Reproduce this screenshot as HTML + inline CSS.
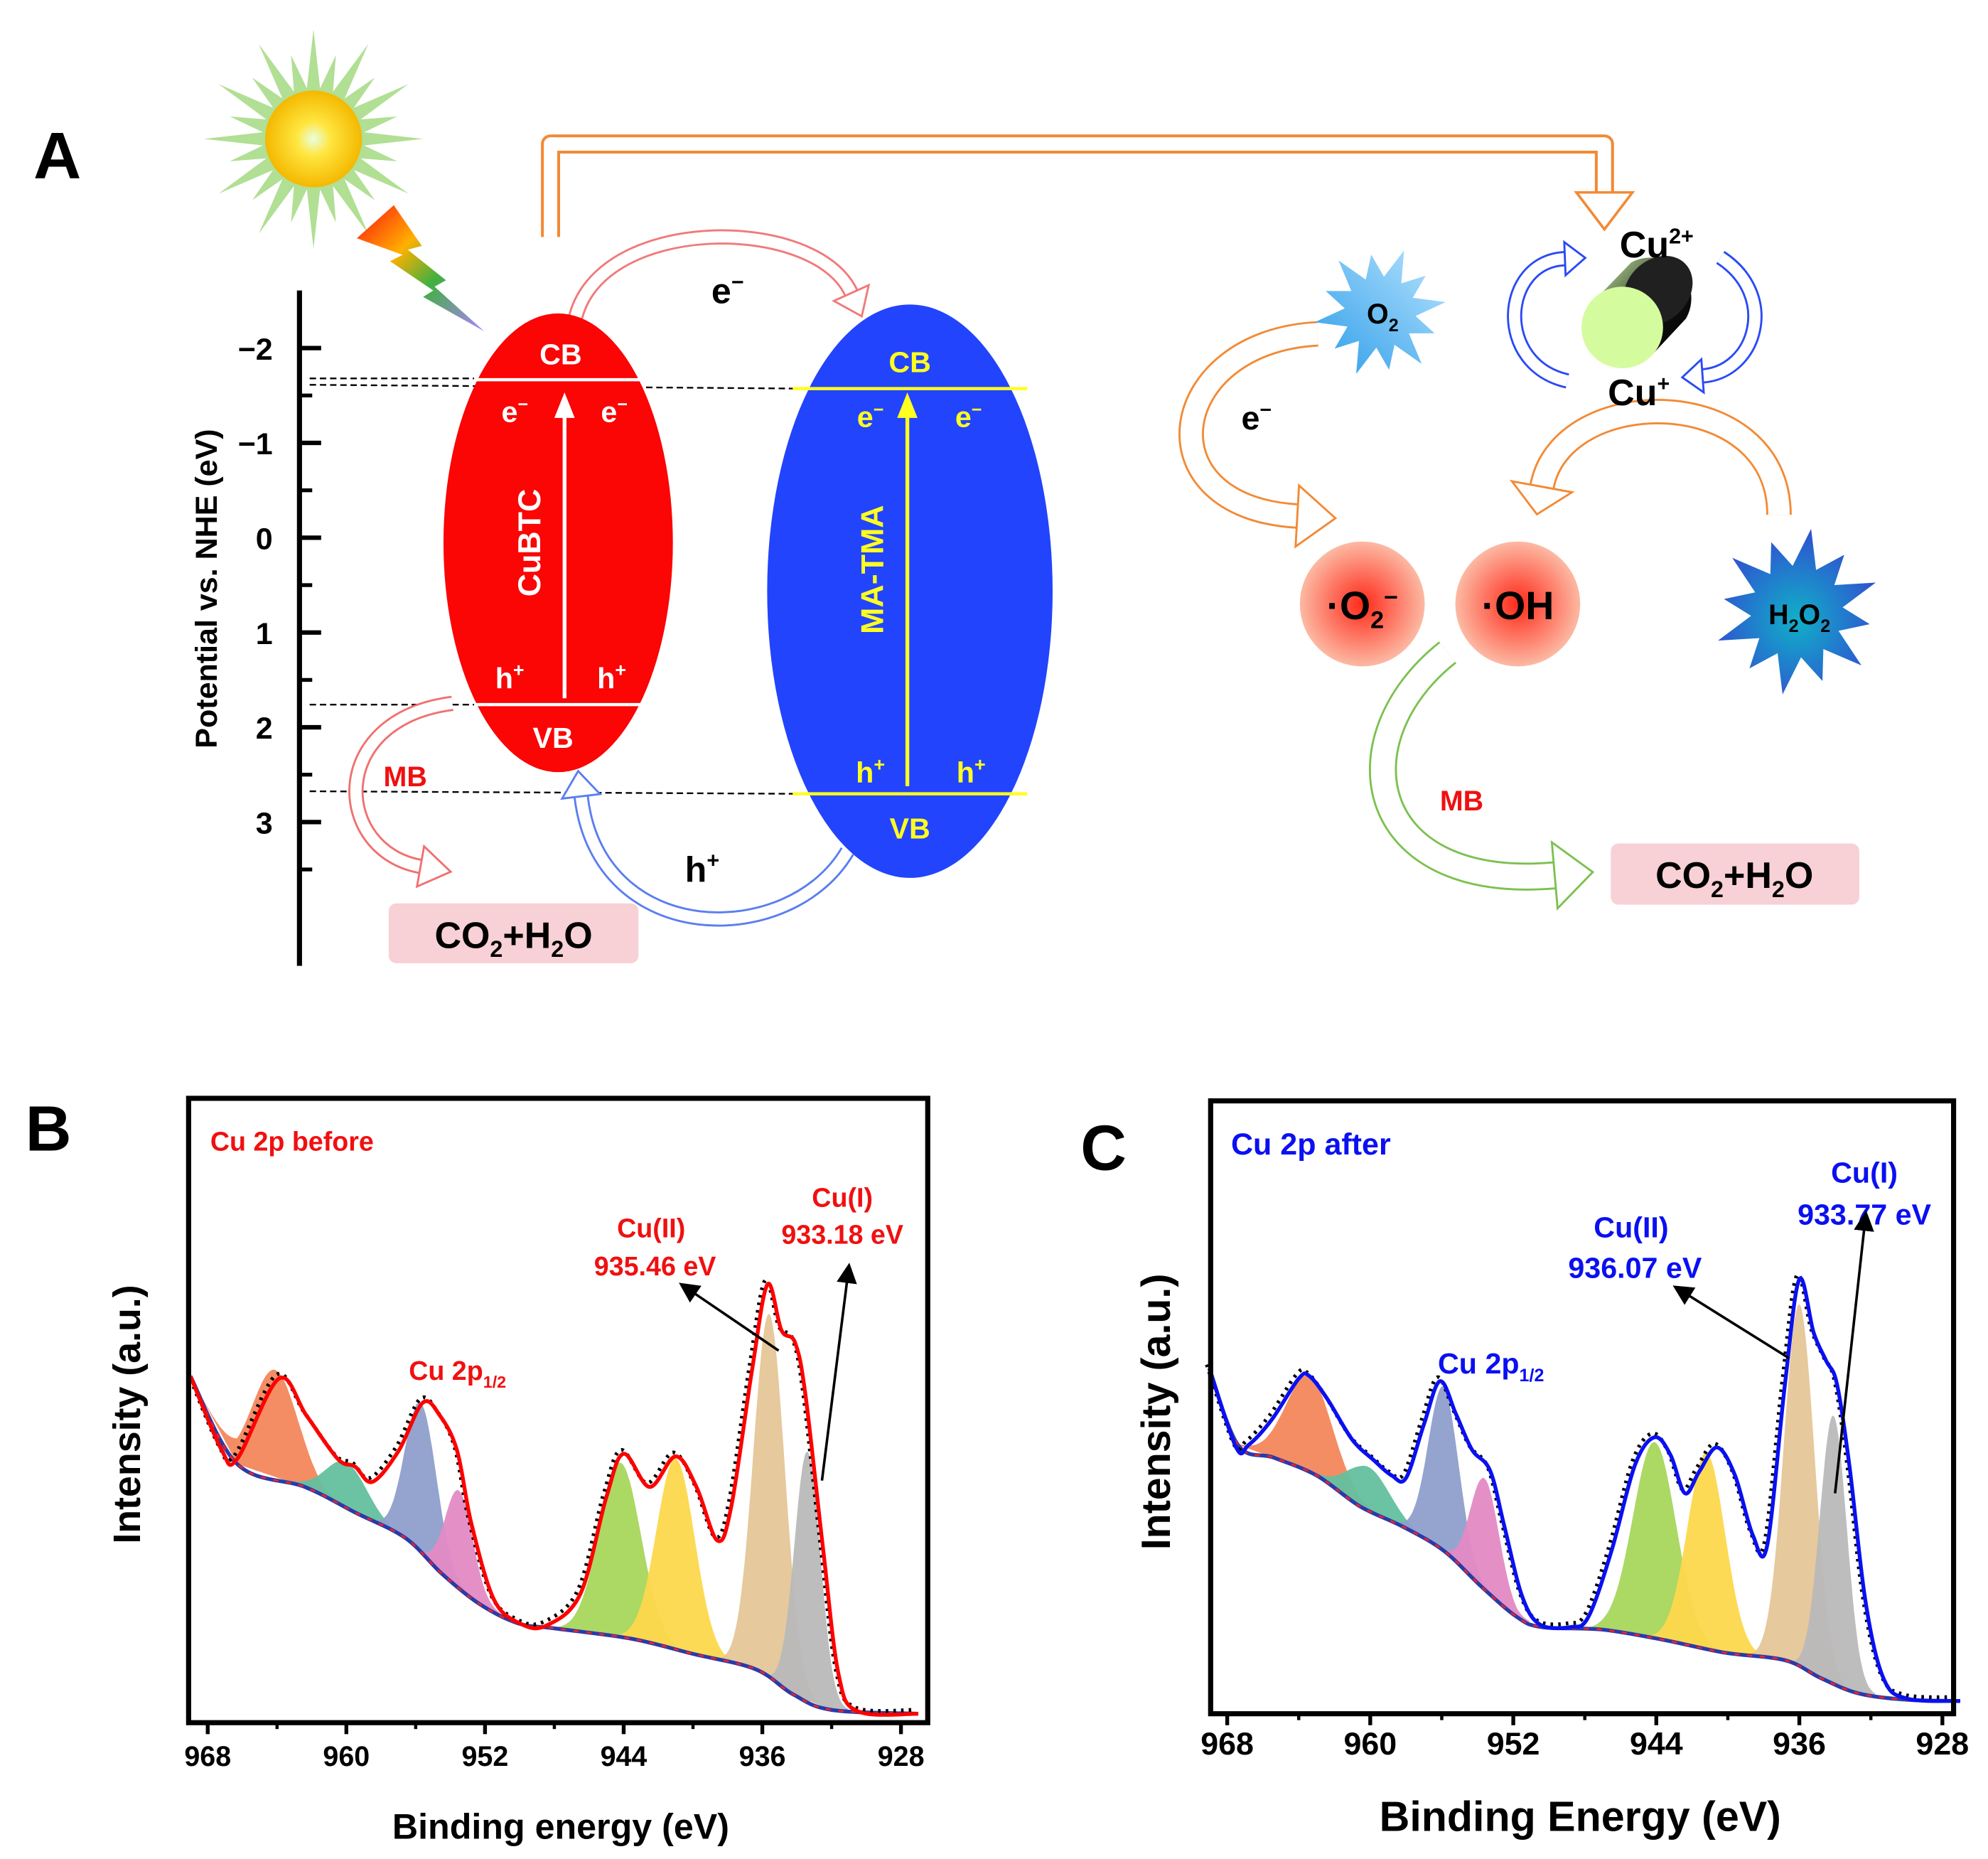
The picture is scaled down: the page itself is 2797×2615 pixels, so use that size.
<!DOCTYPE html>
<html><head><meta charset="utf-8"><style>
html,body{margin:0;padding:0;background:#fff}
svg{display:block}
text{font-family:"Liberation Sans",Arial,sans-serif;font-weight:bold}
</style></head><body>
<svg id="fig" xmlns="http://www.w3.org/2000/svg" width="2797" height="2615" viewBox="0 0 1560 1459" preserveAspectRatio="none">
<defs>
<radialGradient id="sunCore" cx="50%" cy="50%" r="50%"><stop offset="0" stop-color="#e8ffe0"/><stop offset="0.35" stop-color="#ffe640"/><stop offset="1" stop-color="#f4b800"/></radialGradient>
<linearGradient id="bolt" x1="0" y1="0" x2="1" y2="1"><stop offset="0" stop-color="#ff1010"/><stop offset="0.35" stop-color="#ffb000"/><stop offset="0.6" stop-color="#40b040"/><stop offset="1" stop-color="#b080ff"/></linearGradient>
<radialGradient id="rad" cx="50%" cy="50%" r="50%"><stop offset="0" stop-color="#ff2a1a"/><stop offset="1" stop-color="#fcb9a3"/></radialGradient>
<linearGradient id="o2g" x1="1" y1="0" x2="0" y2="1"><stop offset="0" stop-color="#b8e4ff"/><stop offset="1" stop-color="#2b9ce8"/></linearGradient>
<radialGradient id="h2o2g" cx="50%" cy="55%" r="55%"><stop offset="0" stop-color="#10b0c8"/><stop offset="1" stop-color="#3050d0"/></radialGradient>
<linearGradient id="cyl" x1="0" y1="0" x2="1" y2="1"><stop offset="0" stop-color="#c8f0a0"/><stop offset="0.6" stop-color="#101010"/><stop offset="1" stop-color="#000"/></linearGradient>
</defs>

<text x="45" y="140" font-size="52" text-anchor="middle">A</text>
<g id="sun"></g>
<polygon fill="url(#bolt)" points="280,187 309,161 331,193 320,196 350,220 341,225 380,260 332,233 340,228 306,205 316,200"/>

<line x1="235" y1="228" x2="235" y2="758" stroke="#000" stroke-width="4"/>
<g id="aTicks"></g>
<text transform="translate(170,462) rotate(-90)" font-size="24" text-anchor="middle">Potential vs. NHE (eV)</text>

<g stroke="#000" stroke-width="1.3" stroke-dasharray="5 3">
<line x1="243" y1="297" x2="372" y2="297"/>
<line x1="243" y1="302" x2="632" y2="305"/>
<line x1="243" y1="553" x2="372" y2="553"/>
<line x1="243" y1="621" x2="625" y2="623"/>
</g>

<g id="arrowsA"></g>

<g>
<ellipse cx="438" cy="426" rx="90" ry="180" fill="#fb0505"/>
<line x1="372" y1="298" x2="503" y2="298" stroke="#fff" stroke-width="2.5"/>
<line x1="372" y1="553" x2="503" y2="553" stroke="#fff" stroke-width="2.5"/>
<line x1="443" y1="548" x2="443" y2="325" stroke="#fff" stroke-width="3"/>
<polygon points="443,308 435,328 451,328" fill="#fff"/>
<g fill="#fff" font-size="23" text-anchor="middle">
<text x="440" y="286">CB</text><text x="434" y="587">VB</text>
<text x="404" y="331">e<tspan font-size="14" dy="-9">−</tspan></text><text x="482" y="331">e<tspan font-size="14" dy="-9">−</tspan></text>
<text x="400" y="540">h<tspan font-size="15" dy="-9">+</tspan></text><text x="480" y="540">h<tspan font-size="15" dy="-9">+</tspan></text>
<text transform="translate(424,426) rotate(-90)" font-size="25">CuBTC</text>
</g></g>

<g>
<ellipse cx="714" cy="464" rx="112" ry="225" fill="#2244fd"/>
<line x1="622" y1="305" x2="806" y2="305" stroke="#ffff20" stroke-width="2.5"/>
<line x1="622" y1="623" x2="806" y2="623" stroke="#ffff20" stroke-width="2.5"/>
<line x1="712" y1="617" x2="712" y2="325" stroke="#ffff20" stroke-width="3"/>
<polygon points="712,308 704,328 720,328" fill="#ffff20"/>
<g fill="#ffff20" font-size="23" text-anchor="middle">
<text x="714" y="292">CB</text><text x="714" y="658">VB</text>
<text x="683" y="335">e<tspan font-size="14" dy="-9">−</tspan></text><text x="760" y="335">e<tspan font-size="14" dy="-9">−</tspan></text>
<text x="683" y="614">h<tspan font-size="15" dy="-9">+</tspan></text><text x="762" y="614">h<tspan font-size="15" dy="-9">+</tspan></text>
<text transform="translate(693,447) rotate(-90)" font-size="25">MA-TMA</text>
</g></g>

<text x="571" y="238" font-size="28" text-anchor="middle">e<tspan font-size="17" dy="-11">−</tspan></text>
<text x="551" y="692" font-size="28" text-anchor="middle">h<tspan font-size="17" dy="-11">+</tspan></text>
<text x="318" y="617" font-size="22" fill="#f01010" text-anchor="middle">MB</text>
<rect x="305" y="709" width="196" height="47" rx="6" fill="#f7d1d5"/>
<text x="403" y="744" font-size="29" text-anchor="middle" font-weight="normal">CO<tspan font-size="18" dy="7">2</tspan><tspan dy="-7">+H</tspan><tspan font-size="18" dy="7">2</tspan><tspan dy="-7">O</tspan></text>

<polygon id="o2star" fill="url(#o2g)"/>
<text x="1085" y="254" font-size="22" text-anchor="middle">O<tspan font-size="14" dy="6">2</tspan></text>
<g>
<path d="M1252,235 L1280,206 A32,32 0 0 1 1323,250 L1296,279 Z" fill="url(#cyl)"/>
<ellipse cx="1301" cy="228" rx="24" ry="30" transform="rotate(45 1301 228)" fill="#202020"/>
<circle cx="1273" cy="257" r="32" fill="#d5fb9f"/>
</g>
<text x="1300" y="202" font-size="29" text-anchor="middle">Cu<tspan font-size="17" dy="-11">2+</tspan></text>
<text x="1286" y="318" font-size="29" text-anchor="middle">Cu<tspan font-size="17" dy="-11">+</tspan></text>
<text x="986" y="337" font-size="26" text-anchor="middle">e<tspan font-size="16" dy="-10">−</tspan></text>
<circle cx="1069" cy="474" r="49" fill="url(#rad)"/>
<text x="1069" y="486" font-size="31" text-anchor="middle">·O<tspan font-size="19" dy="7">2</tspan><tspan font-size="19" dy="-18">−</tspan></text>
<circle cx="1191" cy="474" r="49" fill="url(#rad)"/>
<text x="1191" y="486" font-size="31" text-anchor="middle">·OH</text>
<polygon id="h2o2star" fill="url(#h2o2g)"/>
<text x="1412" y="490" font-size="22" text-anchor="middle">H<tspan font-size="14" dy="6">2</tspan><tspan dy="-6">O</tspan><tspan font-size="14" dy="6">2</tspan></text>
<text x="1147" y="636" font-size="22" fill="#f01010" text-anchor="middle">MB</text>
<rect x="1264" y="662" width="195" height="48" rx="6" fill="#f7d1d5"/>
<text x="1361" y="697" font-size="29" text-anchor="middle" font-weight="normal">CO<tspan font-size="18" dy="7">2</tspan><tspan dy="-7">+H</tspan><tspan font-size="18" dy="7">2</tspan><tspan dy="-7">O</tspan></text>

<text x="38" y="903" font-size="50" text-anchor="middle">B</text>
<g id="chartB"></g>
<text x="866" y="918" font-size="50" text-anchor="middle">C</text>
<g id="chartC"></g>
</svg>

<script>
const NS = "http://www.w3.org/2000/svg";
function mk(tag, attrs, parent){ const e=document.createElementNS(NS,tag); for(const k in attrs) e.setAttribute(k,attrs[k]); parent.appendChild(e); return e; }

const potentialTicks = [-2,-1,0,1,2,3];
const potentialMinor = [-1.5,-0.5,0.5,1.5,2.5,3.5];
const yA = v => 422 + v*74.4;
const aT = document.getElementById('aTicks');
potentialTicks.forEach(v=>{
  const l = mk('line',{x1:235,x2:252,y1:yA(v),y2:yA(v),stroke:'#000','stroke-width':3.5},aT);
  
  
  const t = mk('text',{x:214,y:yA(v)+9,'font-size':24,'text-anchor':'end'},aT);
  t.textContent = v<0 ? '−'+(-v) : String(v);
  
  
});
potentialMinor.forEach(v=>{
  const l = mk('line',{x1:235,x2:245,y1:yA(v),y2:yA(v),stroke:'#000','stroke-width':3},aT);
  
  
});

(function(){
  const g=document.getElementById('sun'); const cx=246, cy=109;
  let pts=[]; const n=24;
  for(let i=0;i<n*2;i++){ const a=i*Math.PI/n; const r = i%2===0 ? (i%4===0?86:68) : 40; pts.push((cx+r*Math.cos(a)).toFixed(1)+','+(cy+r*Math.sin(a)).toFixed(1)); }
  mk('polygon',{points:pts.join(' '),fill:'#a8dc88',opacity:0.9},g);
  mk('circle',{cx:cx,cy:cy,r:38,fill:'url(#sunCore)'},g);
})();
function star(id,cx,cy,ro,ri,n,rot){
  const pts=[]; for(let i=0;i<n*2;i++){ const a=rot+i*Math.PI/n; const r=i%2?ri:ro*(i%4===0?1:0.88); pts.push((cx+r*Math.cos(a)).toFixed(1)+','+(cy+r*Math.sin(a)).toFixed(1)); }
  document.getElementById(id).setAttribute('points',pts.join(' '));
}
star('o2star',1083,245,52,28,12,-1.2);
star('h2o2star',1410,480,66,36,12,-1.4);

const arrA = document.getElementById('arrowsA');
function hollow(name,p0,c1,c2,p3,color,w,L,H){
  const g = mk('g',{},arrA);
  
  
  const d=`M${p0[0]},${p0[1]} C${c1[0]},${c1[1]} ${c2[0]},${c2[1]} ${p3[0]},${p3[1]}`;
  mk('path',{d:d,fill:'none',stroke:color,'stroke-width':w},g);
  mk('path',{d:d,fill:'none',stroke:'#fff','stroke-width':w-3.2},g);
  let ux=p3[0]-c2[0], uy=p3[1]-c2[1]; const m=Math.hypot(ux,uy); ux/=m; uy/=m;
  const px=-uy, py=ux; const tip=[p3[0]+ux*L,p3[1]+uy*L];
  mk('polygon',{points:`${p3[0]+px*H},${p3[1]+py*H} ${tip[0]},${tip[1]} ${p3[0]-px*H},${p3[1]-py*H}`,fill:'#fff',stroke:color,'stroke-width':1.6,'stroke-linejoin':'miter'},g);
}
(function(){
  const g = mk('g',{},arrA);
  
  
  const d='M432,186 L432,113 L1259,113 L1259,152';
  mk('path',{d:d,fill:'none',stroke:'#f28a35','stroke-width':15,'stroke-linejoin':'round'},g);
  mk('path',{d:d,fill:'none',stroke:'#fff','stroke-width':10.5,'stroke-linejoin':'round'},g);
  mk('polygon',{points:'1237,151 1281,151 1259,180',fill:'#fff',stroke:'#f28a35','stroke-width':2},g);
})();
hollow('electron-transfer-arrow',[451,252],[468,168],[640,168],[668,230],'#f07a7a',12,20,15);
hollow('hole-transfer-arrow',[665,668],[620,745],[470,745],[456,625],'#5a7ef0',12,20,15);
hollow('mb-degradation-arrow-left',[355,552],[255,565],[262,668],[330,680],'#f07070',12,24,16);
hollow('o2-reduction-arrow',[1034,262],[915,268],[895,398],[1018,405],'#f28a35',20,30,24);
hollow('h2o2-to-oh-arrow',[1396,404],[1396,300],[1225,300],[1210,382],'#f28a35',20,22,24);
hollow('mb-degradation-arrow-right',[1136,512],[1050,580],[1070,700],[1220,687],'#7cc150',22,30,26);
hollow('cu-reduction-arrow',[1230,299],[1172,286],[1178,205],[1228,203],'#2a4af5',12,16,13);
hollow('cu-oxidation-arrow',[1350,202],[1396,232],[1378,292],[1336,295],'#2a4af5',12,16,13);

const energyTicks = [968,960,952,944,936,928];
const energyMinor = [964,956,948,940,932];
const bgB_E = [969,966.3,962.4,959.5,956.6,954.5,952.3,950.1,948,943.6,940,936.4,934.2,932,927];
const bgB_I = [280,211,193,173,153,125,101,86,82,74,62,50,30,18,15];
const fitB_E = [969,967.2,966.3,963.9,962.3,960.5,959.5,958.5,957,955.6,954.6,953.6,952.8,951.5,950,948.5,946.5,945,944,942.5,941,939.8,938.6,937.8,936.6,935.7,934.9,934.1,933.5,932.5,931.6,930.5,927];
const fitB_I = [280,222,215,278,249,215,209,197,221,259,249,221,165,105,86,84,109,185,219,193,217,193,151,177,284,352,316,306,264,145,46,17,15];
const peakB_center = [964.1,960.0,955.7,953.5,944.2,941.0,935.6,933.4];
const peakB_height = [84,36,118,76,137,150,286,195];
const peakB_sigma  = [1.3,1.2,0.9,0.8,1.2,1.1,0.9,0.75];
const bgC_E = [969,967.4,965.4,963,960.6,958.2,955.9,953.8,951.8,950.4,947,943.6,940.2,936.8,934.8,932.7,930,927];
const bgC_I = [271,211,201,187,163,147,128,100,76,68,66,58,48,42,28,16,11,10];
const fitC_E = [969,967.5,966.8,965.5,964,963.4,962.4,961,959.8,958.8,958,957,956.1,955.2,954.3,953.3,952.5,951.5,950.5,948.8,947.8,946.5,945.2,944.1,943.2,942.4,941.6,940.6,939.6,938.6,937.8,936.8,936,935.2,934.5,933.9,933.2,932.3,931.3,930,927];
const fitC_I = [271,209,211,231,263,265,247,215,199,187,185,227,261,235,207,191,147,92,70,68,76,128,195,217,203,173,190,209,187,140,132,259,341,299,277,259,195,88,28,12,10];
const peakC_center = [963.4,960.1,955.9,953.6,944.1,941.2,936.0,934.1];
const peakC_height = [76,34,129,87,154,154,285,210];
const peakC_sigma  = [1.3,1.2,0.85,0.8,1.2,1.05,0.85,0.75];
const peakNames = ['satellite-1','satellite-2','cu2p12-cu2','cu2p12-cu1','satellite-3','satellite-4','cu2-peak','cu1-peak'];
const peakColors = ['#f4875c','#63c09e','#8e9fcc','#e38ac4','#a8d65c','#fdd84c','#e5c697','#b9b9b9'];

function interp(E, xs, ys){
  if(E>=xs[0]) return ys[0];
  for(let i=1;i<xs.length;i++){ if(E>=xs[i]){ const t=(xs[i-1]-E)/(xs[i-1]-xs[i]); return ys[i-1]+(ys[i]-ys[i-1])*t; } }
  return ys[ys.length-1];
}
function smoothPath(pts){
  let d=`M${pts[0][0].toFixed(1)},${pts[0][1].toFixed(1)}`;
  for(let i=0;i<pts.length-1;i++){
    const p0=pts[i-1]||pts[i], p1=pts[i], p2=pts[i+1], p3=pts[i+2]||p2;
    const c1=[p1[0]+(p2[0]-p0[0])/6, p1[1]+(p2[1]-p0[1])/6];
    const c2=[p2[0]-(p3[0]-p1[0])/6, p2[1]-(p3[1]-p1[1])/6];
    d+=` C${c1[0].toFixed(1)},${c1[1].toFixed(1)} ${c2[0].toFixed(1)},${c2[1].toFixed(1)} ${p2[0].toFixed(1)},${p2[1].toFixed(1)}`;
  }
  return d;
}

function drawXPS(cfg){
  const g=document.getElementById(cfg.id);
  const x=cfg.x, y=cfg.y;
  cfg.centers.forEach((c,i)=>{
    const s=cfg.sigmas[i], h=cfg.heights[i];
    const up=[], lo=[];
    for(let E=c+3.2*s; E>=c-3.2*s-1e-9; E-=s/12){
      const b=interp(E,cfg.bgE,cfg.bgI);
      up.push([x(E),y(b+h*Math.exp(-((E-c)*(E-c))/(2*s*s)))]);
      lo.push([x(E),y(b)]);
    }
    const pts=up.concat(lo.reverse()).map(p=>p[0].toFixed(1)+','+p[1].toFixed(1)).join(' ');
    const poly=mk('polygon',{points:pts,fill:peakColors[i],opacity:0.95},g);
    
    
  });
  const bgPts=cfg.bgE.map((E,i)=>[x(E),y(cfg.bgI[i])]);
  const bgd=smoothPath(bgPts);
  const bl=mk('path',{d:bgd,fill:'none',stroke:'#2b3aa8','stroke-width':3},g);
  
  
  const bl2=mk('path',{d:bgd,fill:'none',stroke:'#ff2020','stroke-width':1.4,'stroke-dasharray':'4 6'},g);
  
  
  const fitPts=cfg.fitE.map((E,i)=>[x(E),y(cfg.fitI[i])]);
  const fd=smoothPath(fitPts);
  const raw=mk('path',{d:fd,fill:'none',stroke:'#000','stroke-width':3,'stroke-dasharray':'2 4',transform:'translate(-2,-3)'},g);
  
  
  const fit=mk('path',{d:fd,fill:'none',stroke:cfg.fitColor,'stroke-width':3},g);
  
  
  const fr=mk('rect',{x:cfg.fx0,y:cfg.fy0,width:cfg.fx1-cfg.fx0,height:cfg.fy1-cfg.fy0,fill:'none',stroke:'#000','stroke-width':4},g);
  
  
  energyTicks.forEach(E=>{
    const t=mk('line',{x1:x(E),x2:x(E),y1:cfg.fy1,y2:cfg.fy1+9,stroke:'#000','stroke-width':3},g);
    
    
    const lb=mk('text',{x:x(E),y:cfg.fy1+cfg.labOff,'font-size':cfg.tickFs,'text-anchor':'middle'},g);
    lb.textContent=String(E);
    
    
  });
  energyMinor.forEach(E=>{
    const t=mk('line',{x1:x(E),x2:x(E),y1:cfg.fy1,y2:cfg.fy1+5,stroke:'#000','stroke-width':2.5},g);
    
    
  });
}

const xB = E => 163 + (968-E)*13.6;
const yB = I => 1360 - I;
drawXPS({id:'chartB',x:xB,y:yB,bgE:bgB_E,bgI:bgB_I,fitE:fitB_E,fitI:fitB_I,centers:peakB_center,heights:peakB_height,sigmas:peakB_sigma,fitColor:'#ff0000',fx0:148,fx1:728,fy0:862,fy1:1352,labOff:34,tickFs:22});
const xC = E => 963 + (968-E)*14.03;
const yC = I => 1345 - I;
drawXPS({id:'chartC',x:xC,y:yC,bgE:bgC_E,bgI:bgC_I,fitE:fitC_E,fitI:fitC_I,centers:peakC_center,heights:peakC_height,sigmas:peakC_sigma,fitColor:'#0a10f0',fx0:950,fx1:1533,fy0:864,fy1:1345,labOff:32,tickFs:25});
</script>

<svg style="position:absolute;left:0;top:0" width="2797" height="2615" viewBox="0 0 1560 1459" preserveAspectRatio="none">
<defs><marker id="ah" markerWidth="8" markerHeight="8" refX="6" refY="4" orient="auto" markerUnits="strokeWidth"><path d="M0,0 L8,4 L0,8 Z" fill="#000"/></marker></defs>
<g font-family="Liberation Sans, Arial, sans-serif" font-weight="bold">
<text x="165" y="903" font-size="21" fill="#f01010">Cu 2p before</text>
<text x="359" y="1083" font-size="21" fill="#f01010" text-anchor="middle">Cu 2p<tspan font-size="13" dy="6">1/2</tspan></text>
<text x="511" y="971" font-size="21" fill="#f01010" text-anchor="middle">Cu(II)</text>
<text x="514" y="1001" font-size="21" fill="#f01010" text-anchor="middle">935.46 eV</text>
<text x="661" y="947" font-size="21" fill="#f01010" text-anchor="middle">Cu(I)</text>
<text x="661" y="976" font-size="21" fill="#f01010" text-anchor="middle">933.18 eV</text>
<line x1="611" y1="1060" x2="536" y2="1009" stroke="#000" stroke-width="2" marker-end="url(#ah)"/>
<line x1="645" y1="1162" x2="666" y2="995" stroke="#000" stroke-width="2" marker-end="url(#ah)"/>
<text transform="translate(110,1110) rotate(-90)" font-size="30" text-anchor="middle">Intensity (a.u.)</text>
<text x="440" y="1443" font-size="28" text-anchor="middle">Binding energy (eV)</text>

<text x="966" y="906" font-size="24" fill="#0a10f0">Cu 2p after</text>
<text x="1170" y="1078" font-size="23" fill="#0a10f0" text-anchor="middle">Cu 2p<tspan font-size="14" dy="6">1/2</tspan></text>
<text x="1280" y="971" font-size="23" fill="#0a10f0" text-anchor="middle">Cu(II)</text>
<text x="1283" y="1003" font-size="23" fill="#0a10f0" text-anchor="middle">936.07 eV</text>
<text x="1463" y="928" font-size="23" fill="#0a10f0" text-anchor="middle">Cu(I)</text>
<text x="1463" y="961" font-size="23" fill="#0a10f0" text-anchor="middle">933.77 eV</text>
<line x1="1404" y1="1066" x2="1316" y2="1011" stroke="#000" stroke-width="2" marker-end="url(#ah)"/>
<line x1="1440" y1="1172" x2="1464" y2="954" stroke="#000" stroke-width="2" marker-end="url(#ah)"/>
<text transform="translate(918,1108) rotate(-90)" font-size="32" text-anchor="middle">Intensity (a.u.)</text>
<text x="1240" y="1437" font-size="33" text-anchor="middle">Binding Energy (eV)</text>
</g>
</svg>
</body></html>
